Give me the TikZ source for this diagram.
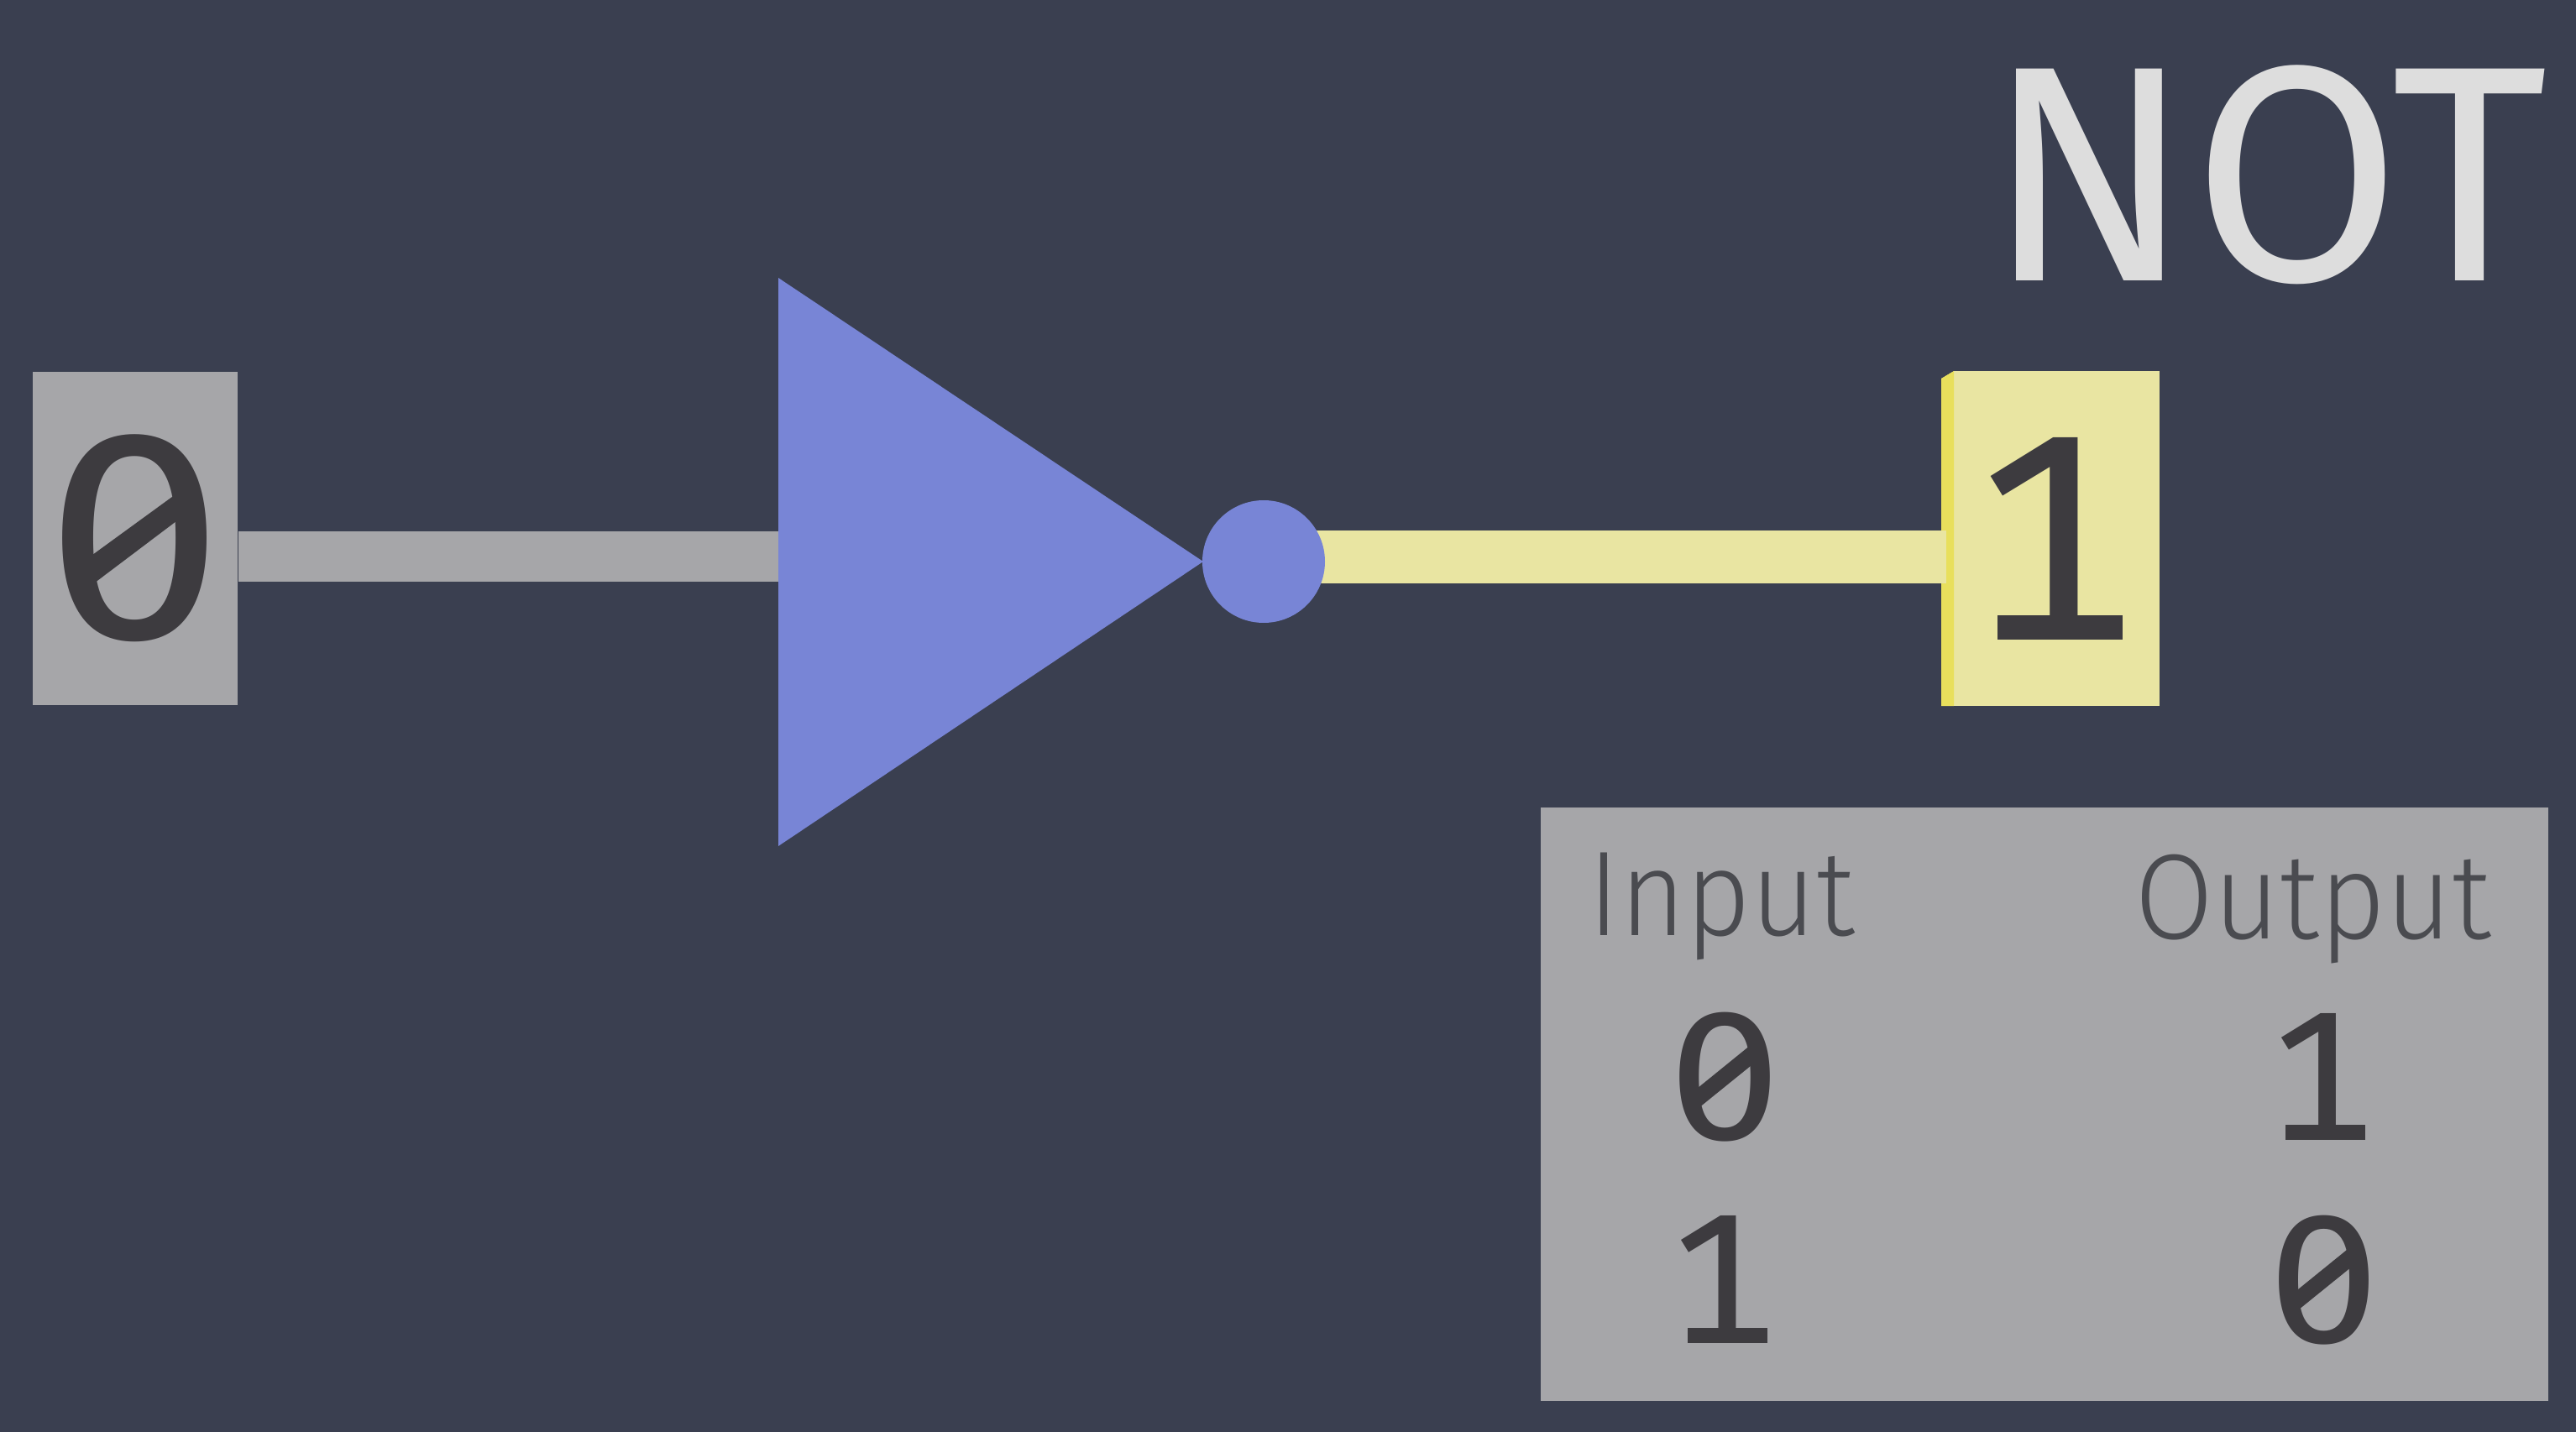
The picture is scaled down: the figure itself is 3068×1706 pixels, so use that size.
\documentclass[tikz,border=0pt]{standalone}
\usepackage{graphicx}
\usepackage{fontspec}
\setmainfont{Fira Sans Light}
\newfontfamily\titlefont{Fira Sans}
\newfontfamily\digitfont{Fira Sans}
\definecolor{bgc}{HTML}{3A3F50}
\definecolor{boxgrey}{HTML}{A6A6A9}
\definecolor{litc}{HTML}{E9E5A2}
\definecolor{stripc}{HTML}{E8DF5C}
\definecolor{gatec}{HTML}{7885D6}
\definecolor{inkc}{HTML}{3D3B3F}
\definecolor{headc}{HTML}{4A4B50}
\definecolor{titlec}{HTML}{DDDDDD}
\newcommand{\fitbox}[3]{\resizebox*{#1\dimexpr0.01cm\relax}{#2\dimexpr0.01cm\relax}{#3}}
\newcommand{\fitone}[2]{\resizebox*{!}{#1\dimexpr0.01cm\relax}{#2}}
\tikzset{
  x=0.01cm,y=-0.01cm,
  glyph/.style={inner sep=0pt,outer sep=0pt,text=inkc,anchor=center},
  head/.style={inner sep=0pt,outer sep=0pt,text=headc,anchor=center},
}
\begin{document}
\begin{tikzpicture}
\useasboundingbox (0,0) rectangle (3068,1706);
\fill[bgc] (0,0) rectangle (3068,1706);
% input box
\node[fill=boxgrey,inner sep=0pt,outer sep=0pt,minimum width=2.44cm,minimum height=3.97cm] (inbox) at (161,641.5) {};
\node[glyph] (indigit) at (160.5,641.5) {\fitbox{214}{247}{\digitfont 0}};
\fill[inkc,shift={(indigit.center)}] (-62,28) -- (52,-55) -- (58,-27) -- (-52,56) -- cycle;
% gate
\coordinate (gtop) at (927,331);
\coordinate (gtip) at (1433,669);
\coordinate (gbot) at (927,1008);
\coordinate (gatein) at (927,663);
\fill[gatec] (gtop) -- (gtip) -- (gbot) -- cycle;
\node[circle,inner sep=0pt,outer sep=0pt,minimum size=1.46cm] (bubble) at (1505,669) {};
% output box
\node[fill=litc,inner sep=0pt,outer sep=0pt,minimum width=2.60cm,minimum height=3.99cm] (outbox) at (2442,641.5) {};
\fill[bgc] (2312,442) -- (2327,442) -- (2312,451) -- cycle;
\fill[stripc] (2312,451) -- (2327,442) -- (2327,841) -- (2312,841) -- cycle;
\node[glyph] (outdigit) at (2437,641.5) {\fitone{241}{\digitfont 1}};
\fill[inkc,shift={(outdigit.center)}] (-58,91.5) rectangle (91,120.5);
% wires
\coordinate (outin) at (2318,663.5);
\draw[boxgrey,line width=0.60cm] (inbox.east |- gatein) ++(1,0) -- (gatein);
\draw[litc,line width=0.62cm] (bubble.center |- outin) -- (outin);
\fill[gatec] (bubble.center) circle (73);
% title
\node[inner sep=0pt,outer sep=0pt,text=titlec] (title) at (2700,208.5) {\fitbox{668}{261}{\titlefont NOT}};
% table
\node[fill=boxgrey,inner sep=0pt,outer sep=0pt,minimum width=12cm,minimum height=7.075cm] (tbl) at (2435,1315.5) {};
\node[head] (hin) at (2050.5,1080) {\fitbox{318}{128}{Input}};
\node[head] (hout) at (2754.5,1083) {\fitbox{425}{130}{Output}};
\node[glyph] (t00) at (2055,1283) {\fitbox{134}{154}{\digitfont 0}};
\fill[inkc,shift={(t00.center)}] (-39,18) -- (30,-38) -- (36,-18) -- (-32,37) -- cycle;
\node[glyph] (t01) at (2758.5,1282.5) {\fitone{151}{\digitfont 1}};
\fill[inkc,shift={(t01.center)}] (-36.5,57.5) rectangle (58.5,75.5);
\node[glyph] (t10) at (2043.5,1524) {\fitone{152}{\digitfont 1}};
\fill[inkc,shift={(t10.center)}] (-33.5,58) rectangle (61.5,76);
\node[glyph] (t11) at (2767.5,1525) {\fitbox{133}{154}{\digitfont 0}};
\fill[inkc,shift={(t11.center)}] (-39,18) -- (30,-38) -- (36,-18) -- (-32,37) -- cycle;
\end{tikzpicture}
\end{document}
